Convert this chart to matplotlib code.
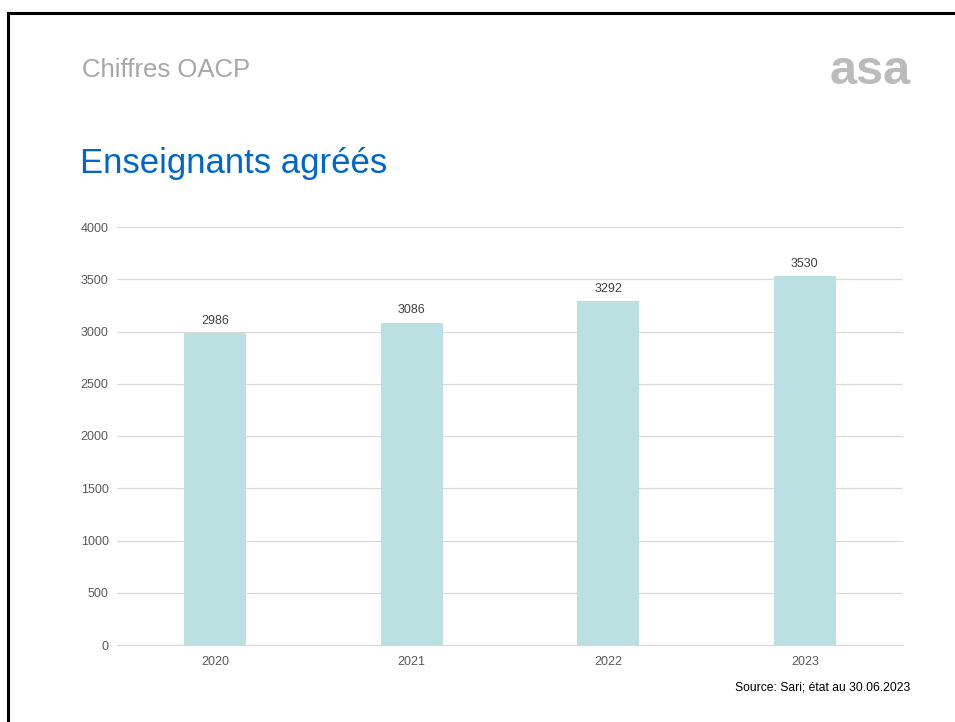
import matplotlib
matplotlib.use("Agg")
import matplotlib.pyplot as plt
from matplotlib.lines import Line2D

plt.rcParams['font.family'] = ['Liberation Sans', 'DejaVu Sans']

#data
years = ["2020", "2021", "2022", "2023"]
teachers = [2986, 3086, 3292, 3530]
yticks = [0, 500, 1000, 1500, 2000, 2500, 3000, 3500, 4000]

fig = plt.figure(figsize=(9.55, 7.22), dpi=100)

#slide frame (top and left edges)
fig.add_artist(Line2D([0.0085, 0.0085], [0, 0.982], color="black", lw=2.2, transform=fig.transFigure))
fig.add_artist(Line2D([0.0085, 1.0], [0.982, 0.982], color="black", lw=2.2, transform=fig.transFigure))

fig.text(82 / 955, 1 - 70 / 722, "Chiffres OACP", fontsize=18.5, color="#A6A6A6", va="center", ha="left")
fig.text(911 / 955, 1 - 71 / 722, "asa", fontsize=35, color="#BBBBBB", fontweight="bold", va="center", ha="right")
fig.text(80 / 955, 1 - 163 / 722, "Enseignants agréés", fontsize=25, color="#0066CC", va="center", ha="left")

ax = fig.add_axes([117 / 955, 1 - 645 / 722, 786 / 955, 418 / 722])
x = range(len(years))
bars = ax.bar(x, teachers, width=0.315, color="#BAE0E2", zorder=2)
for b, v in zip(bars, teachers):
    ax.text(b.get_x() + b.get_width() / 2, v + 60, str(v), ha="center", va="bottom", fontsize=9, color="#404040")

ax.set_xlim(-0.5, len(years) - 0.5)
ax.set_ylim(0, 4000)
ax.set_yticks(yticks)
ax.set_xticks(list(x))
ax.set_xticklabels(years)
ax.yaxis.grid(True, color="#D9D9D9", lw=0.9, zorder=0)
for s in ["top", "right", "left"]:
    ax.spines[s].set_visible(False)
ax.spines["bottom"].set_color("#D9D9D9")
ax.tick_params(axis="both", length=0, labelsize=9, labelcolor="#595959")
ax.tick_params(axis="y", pad=6)
ax.tick_params(axis="x", pad=8)

fig.text(910 / 955, 1 - 687 / 722, "Source: Sari; état au 30.06.2023", fontsize=8.7, color="black", ha="right", va="center")

fig.savefig("out.png", dpi=100)
